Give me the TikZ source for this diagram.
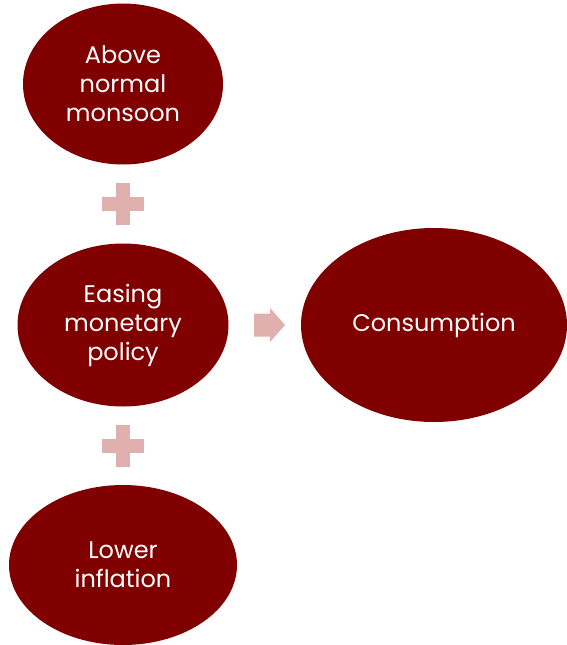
\documentclass[tikz,border=0pt]{standalone}
\usepackage{fontspec}
\setmainfont{Poppins}
\usetikzlibrary{shapes.geometric,calc}

\definecolor{darkmaroon}{RGB}{128,0,0}
\definecolor{palerose}{RGB}{223,176,174}

\tikzset{
  bubble/.style={ellipse, fill=darkmaroon, text=white, align=center,
    inner sep=0pt, font=\fontsize{24}{29}\selectfont},
  joiner/.style={fill=palerose}
}

\begin{document}
\begin{tikzpicture}[x=1pt,y=-1pt]
    \useasboundingbox (0,0) rectangle (566,645);

    \coordinate (c1) at (123, 84);
    \coordinate (c2) at (123, 325);
    \coordinate (c3) at (123, 565);
    \coordinate (c4) at (434, 325);

    \node [bubble,minimum width=200pt,minimum height=161pt] (monsoon) at (c1)
    {Above\\normal\\monsoon};

    \node [bubble,minimum width=211pt,minimum height=163pt] (easing) at (c2)
    {Easing\\monetary\\policy};

    \node [bubble,minimum width=228pt,minimum height=160pt] (inflation) at (c3)
    {Lower\\inflation};

    \node [bubble,minimum width=266pt,minimum height=194pt] (consumption) at (c4)
    {Consumption};

    % plus signs between the stacked bubbles
    \coordinate (p1) at ($(monsoon.south)!0.5!(easing.north)$);
    \coordinate (p2) at ($(easing.south)!0.5!(inflation.north)$);
    \foreach \p in {p1,p2} {
      \fill [joiner] ($(\p)+(-21,-7)$) rectangle ($(\p)+(21,7)$);
      \fill [joiner] ($(\p)+(-7,-21)$) rectangle ($(\p)+(7,21)$);
    }

    % block arrow towards the result
    \coordinate (a) at (269, 325);
    \fill [joiner] ($(a)+(-15,-11.5)$) -- ($(a)+(1,-11.5)$) -- ($(a)+(1,-17)$)
    -- ($(a)+(16,0)$) -- ($(a)+(1,17)$) -- ($(a)+(1,11.5)$)
    -- ($(a)+(-15,11.5)$) -- cycle;
  \end{tikzpicture}
\end{document}
